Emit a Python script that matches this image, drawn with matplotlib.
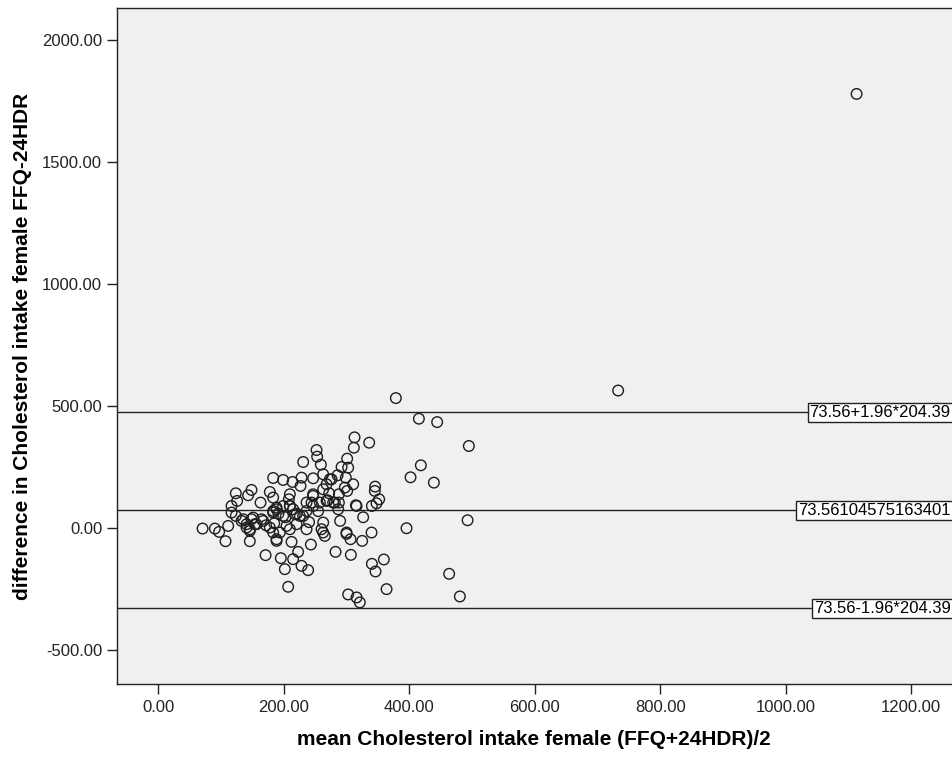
import matplotlib
matplotlib.use("Agg")
import matplotlib.pyplot as plt
import numpy as np

plt.rcParams['font.family'] = ['Liberation Sans', 'DejaVu Sans']

# Bland-Altman data: mean of the two methods vs. their difference
mean_intake = [
    378.8, 415.5, 444.6, 495.1, 313.0, 311.9, 336.3, 252.4, 253.4, 231.1,
    259.3, 301.2, 292.3, 302.8, 183.3, 199.2, 214.2, 228.5, 226.9, 247.0,
    263.0, 276.3, 285.9, 299.1, 268.4, 310.8, 418.6, 402.2, 439.4, 345.8,
    345.3, 352.2, 348.0, 340.6, 315.1, 301.2, 288.0, 288.0, 286.9, 272.5,
    270.0, 247.0, 244.5, 209.9, 208.3, 178.0, 148.8, 143.4, 123.8, 125.9,
    163.2, 117.0, 123.8, 135.5, 151.4, 167.3, 183.3, 188.7, 199.2, 209.9,
    217.8, 225.8, 236.5, 247.0, 263.0, 260.4, 265.6, 236.5, 220.6, 209.9,
    193.9, 188.7, 212.6, 146.1, 140.9, 156.8, 111.6, 70.8, 90.4, 97.2,
    107.4, 146.1, 243.4, 171.2, 195.5, 215.1, 223.1, 228.5, 239.0, 201.9,
    207.2, 282.7, 307.1, 300.2, 306.6, 325.1, 340.1, 326.7, 395.8, 493.1,
    340.6, 346.4, 359.7, 364.0, 302.8, 316.2, 321.4, 463.7, 480.8, 733.0,
    1113.0,
    140.9, 132.9, 148.8, 164.8, 178.0, 188.7, 188.7, 146.1, 154.1, 183.3,
    199.2, 215.1, 231.1, 262.9, 300.2, 316.2, 257.7, 278.9, 204.6, 183.3,
    297.5, 263.0, 247.0, 281.6, 268.4, 236.5, 209.9, 183.3, 273.6, 117.0,
    191.8, 185.0, 240.5, 221.0, 255.0, 290.0, 172.0, 203.0,
]
diff_intake = [
    533.0, 448.6, 434.8, 336.8, 372.2, 329.9, 350.4, 320.4, 293.1, 271.3,
    260.4, 284.9, 250.8, 248.1, 205.8, 197.7, 189.5, 207.2, 173.1, 204.5,
    220.9, 200.4, 216.8, 207.2, 180.0, 180.0, 257.7, 208.6, 186.8, 170.4,
    152.7, 118.6, 102.2, 91.3, 94.1, 152.7, 139.1, 105.0, 77.7, 143.1,
    114.5, 132.2, 105.0, 139.1, 118.6, 148.6, 156.8, 135.0, 143.1, 111.8,
    105.0, 64.1, 50.4, 36.8, 43.6, 30.0, 70.9, 84.5, 50.4, 91.3,
    57.3, 50.4, 70.9, 91.3, 23.2, -4.1, -31.4, -4.1, 16.4, -4.1,
    -17.7, -51.8, -55.9, -4.1, 16.4, 16.4, 9.5, -1.4, -1.4, -15.0,
    -53.2, -53.2, -66.8, -110.4, -122.7, -126.8, -96.8, -154.1, -171.8, -167.7,
    -240.0, -96.8, -109.1, -23.2, -45.0, -51.8, -17.7, 45.0, 0.0, 32.7,
    -145.9, -177.2, -128.1, -249.5, -271.3, -283.5, -304.0, -186.8, -279.5, 564.0,
    1779.0,
    2.9, 29.9, 36.8, 36.8, 2.9, 77.7, -45.0, -11.0, 16.4, 64.2,
    91.2, 77.7, 50.3, -17.6, -17.6, 91.2, 105.1, 105.1, 9.4, -17.6,
    166.4, 159.5, 139.1, 105.1, 111.7, 105.1, 91.2, 125.6, 200.4, 91.2,
    60.0, 20.0, 25.0, 60.0, 70.0, 30.0, 12.0, 45.0,
]

mean_diff = 73.56104575163401
sd_diff = 204.39
ref_values = [mean_diff + 1.96 * sd_diff, mean_diff, mean_diff - 1.96 * sd_diff]
ref_labels = ['73.56+1.96*204.39', '73.56104575163401', '73.56-1.96*204.39']

x_ticks = [0, 200, 400, 600, 800, 1000, 1200]
y_ticks = [-500, 0, 500, 1000, 1500, 2000]

fig = plt.figure(figsize=(9.52, 7.62), dpi=100)
ax = fig.add_axes([0.1226, 0.1024, 0.8774, 0.8871])
ax.set_facecolor('#f0f0f0')

ax.scatter(mean_intake, diff_intake, s=58, facecolors='none',
           edgecolors='#1e1e1e', linewidths=1.0, zorder=3)

for val, lab in zip(ref_values, ref_labels):
    ax.axhline(val, color='#222222', lw=1.0, zorder=2)
    ax.text(0.9985, val, lab, transform=ax.get_yaxis_transform(),
            ha='right', va='center', fontsize=12, color='black', zorder=4,
            bbox=dict(boxstyle='square,pad=0.12', fc='white', ec='#222222', lw=1.0))

ax.set_xlim(-66, 1265)
ax.set_ylim(-638, 2131)
ax.set_xticks(x_ticks)
ax.set_yticks(y_ticks)
ax.xaxis.set_major_formatter(matplotlib.ticker.FormatStrFormatter('%.2f'))
ax.yaxis.set_major_formatter(matplotlib.ticker.FormatStrFormatter('%.2f'))
ax.tick_params(direction='out', length=7.5, width=1.0, labelsize=12,
               colors='#222222', pad=3)
ax.tick_params(axis='x', pad=4)

for side in ['left', 'bottom', 'top']:
    ax.spines[side].set_color('#222222')
    ax.spines[side].set_linewidth(1.0)
ax.spines['right'].set_visible(False)

ax.set_xlabel('mean Cholesterol intake female (FFQ+24HDR)/2',
              fontsize=15, fontweight='bold', labelpad=11)
ax.set_ylabel('difference in Cholesterol intake female FFQ-24HDR',
              fontsize=15, fontweight='bold', labelpad=7)

fig.savefig('out.png', dpi=100, facecolor='white')
